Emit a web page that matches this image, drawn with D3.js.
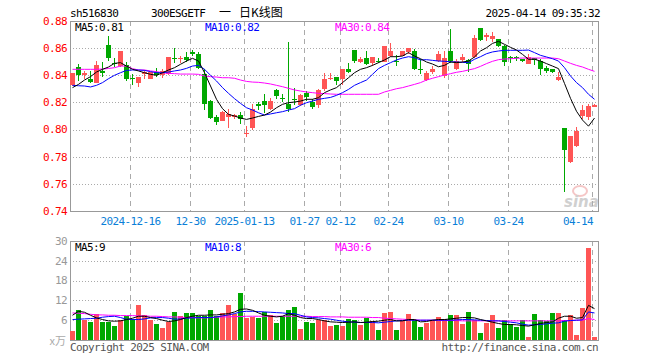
<!DOCTYPE html>
<html lang="zh">
<head>
<meta charset="utf-8">
<title>300ESGETF 日K线图</title>
<script src="https://d3js.org/d3.v7.min.js"></script>
<style>
  body { margin: 0; background: #fff; }
  text { font-family: "DejaVu Sans Mono", monospace; font-size: 11px; letter-spacing: -0.6px; }
  text.cjk { font-family: "Noto Sans CJK SC", sans-serif; font-size: 12px; letter-spacing: 0; }
</style>
</head>
<body>
<div id="chart"></div>
<script>
// trading days shown
var dates = [
  "2024-12-02","2024-12-03","2024-12-04","2024-12-05","2024-12-06",
  "2024-12-09","2024-12-10","2024-12-11","2024-12-12","2024-12-13",
  "2024-12-16","2024-12-17","2024-12-18","2024-12-19","2024-12-20",
  "2024-12-23","2024-12-24","2024-12-25","2024-12-26","2024-12-27",
  "2024-12-30","2024-12-31",
  "2025-01-02","2025-01-03","2025-01-06","2025-01-07","2025-01-08","2025-01-09","2025-01-10",
  "2025-01-13","2025-01-14","2025-01-15","2025-01-16","2025-01-17",
  "2025-01-20","2025-01-21","2025-01-22","2025-01-23","2025-01-24","2025-01-27",
  "2025-02-05","2025-02-06","2025-02-07","2025-02-10","2025-02-11","2025-02-12","2025-02-13","2025-02-14",
  "2025-02-17","2025-02-18","2025-02-19","2025-02-20","2025-02-21",
  "2025-02-24","2025-02-25","2025-02-26","2025-02-27","2025-02-28",
  "2025-03-03","2025-03-04","2025-03-05","2025-03-06","2025-03-07",
  "2025-03-10","2025-03-11","2025-03-12","2025-03-13","2025-03-14",
  "2025-03-17","2025-03-18","2025-03-19","2025-03-20","2025-03-21",
  "2025-03-24","2025-03-25","2025-03-26","2025-03-27","2025-03-28","2025-03-31",
  "2025-04-01","2025-04-02","2025-04-03","2025-04-07","2025-04-08","2025-04-09","2025-04-10","2025-04-11","2025-04-14"];

var open = [.8328,.8463,.8400,.8370,.8346,.8430,.8621,.8490,.8468,.8473,
  .8380,.8340,.8407,.8375,.8424,.8400,.8412,.8530,.8520,.8535,
  .8570,.8557,.8407,.8211,.8090,.8063,.8093,.8093,.8105,.7965,
  .8009,.8186,.8211,.8149,.8289,.8232,.8186,.8223,.8179,.8272,
  .8203,.8179,.8301,.8370,.8385,.8370,.8449,.8584,.8500,.8530,
  .8488,.8507,.8498,.8542,.8508,.8542,.8574,.8579,.8447,.8363,
  .8427,.8505,.8395,.8579,.8444,.8513,.8510,.8535,.8746,.8685,
  .8670,.8665,.8616,.8532,.8535,.8518,.8481,.8525,.8505,.8456,
  .8449,.8365,.8009,.7764,.7879,.8100,.8090,.8168];
var high = [.8420,.8480,.8430,.8430,.8505,.8500,.8690,.8530,.8580,.8500,
  .8410,.8390,.8440,.8424,.8456,.8450,.8535,.8600,.8545,.8570,
  .8590,.8570,.8444,.8220,.8107,.8135,.8154,.8117,.8129,.8028,
  .8186,.8203,.8260,.8235,.8296,.8260,.8645,.8309,.8262,.8285,
  .8223,.8296,.8419,.8420,.8390,.8444,.8494,.8584,.8535,.8579,
  .8535,.8530,.8616,.8635,.8550,.8579,.8604,.8591,.8517,.8432,
  .8468,.8579,.8579,.8739,.8518,.8559,.8522,.8697,.8746,.8709,
  .8719,.8665,.8620,.8540,.8540,.8520,.8555,.8525,.8520,.8468,
  .8449,.8424,.8009,.7953,.8019,.8179,.8186,.8186];
var low = [.8320,.8360,.8370,.8340,.8340,.8390,.8505,.8460,.8460,.8360,
  .8330,.8314,.8370,.8370,.8390,.8380,.8400,.8490,.8490,.8500,
  .8540,.8448,.8144,.8075,.8034,.8060,.8009,.8081,.8044,.7947,
  .8000,.8142,.8120,.8144,.8223,.8203,.8132,.8179,.8174,.8211,
  .8149,.8162,.8284,.8365,.8330,.8330,.8420,.8494,.8494,.8474,
  .8467,.8487,.8498,.8535,.8470,.8542,.8560,.8436,.8407,.8358,
  .8407,.8498,.8382,.8493,.8439,.8498,.8424,.8530,.8653,.8653,
  .8645,.8611,.8468,.8494,.8508,.8500,.8481,.8474,.8405,.8420,
  .8420,.8358,.7540,.7757,.7875,.8080,.8070,.8166];
var close = [.8414,.8402,.8419,.8350,.8473,.8420,.8525,.8480,.8576,.8370,
  .8370,.8387,.8424,.8424,.8399,.8430,.8535,.8525,.8530,.8510,
  .8560,.8451,.8186,.8088,.8058,.8129,.8117,.8105,.8075,.7975,
  .8154,.8174,.8179,.8211,.8247,.8228,.8154,.8220,.8252,.8240,
  .8169,.8289,.8370,.8382,.8360,.8444,.8427,.8505,.8522,.8486,
  .8535,.8503,.8616,.8579,.8503,.8579,.8604,.8444,.8444,.8419,
  .8449,.8554,.8530,.8505,.8505,.8535,.8486,.8672,.8660,.8694,
  .8689,.8616,.8498,.8525,.8530,.8503,.8535,.8513,.8447,.8432,
  .8425,.8390,.7849,.7953,.7990,.8144,.8172,.8183];

// volume, x万
var vol = [2.8,9.0,6.0,5.4,8.0,5.4,5.4,4.2,6.0,7.2,
  6.5,10.5,7.7,6.2,5.0,3.6,5.5,8.5,7.2,8.2,
  8.2,7.2,7.2,9.0,7.2,8.2,10.5,8.0,14.2,6.7,
  7.0,6.7,8.5,7.5,5.2,7.4,9.0,10.0,3.4,5.5,
  5.2,6.0,6.2,4.3,4.6,4.3,6.4,6.0,4.6,6.8,
  5.8,3.0,8.2,8.5,3.0,5.8,7.8,6.0,4.0,5.2,
  6.2,7.0,6.5,7.5,7.5,4.8,8.5,6.2,2.2,5.2,
  7.5,3.7,6.0,5.0,4.0,6.0,1.0,7.8,6.0,5.8,
  8.2,8.2,6.2,7.5,1.5,9.7,28.0,1.0];

// moving averages as drawn
var ma5 = [.8309,.8333,.8365,.8390,.8424,.8444,.8461,.8488,.8493,.8468,
  .8444,.8432,.8419,.8407,.8400,.8419,.8439,.8456,.8481,.8505,
  .8525,.8505,.8419,.8321,.8223,.8154,.8112,.8100,.8085,.8075,
  .8085,.8097,.8107,.8129,.8161,.8186,.8198,.8203,.8210,.8223,
  .8223,.8235,.8272,.8292,.8309,.8346,.8382,.8419,.8444,.8456,
  .8473,.8493,.8513,.8537,.8537,.8542,.8567,.8542,.8522,.8498,
  .8483,.8463,.8473,.8498,.8493,.8498,.8505,.8535,.8579,.8603,
  .8635,.8650,.8628,.8606,.8586,.8554,.8518,.8518,.8505,.8486,
  .8468,.8449,.8340,.8230,.8135,.8070,.8025,.8085];
var ma10 = [.8326,.8323,.8321,.8314,.8326,.8346,.8375,.8400,.8419,.8436,
  .8439,.8439,.8436,.8427,.8419,.8419,.8424,.8432,.8439,.8451,
  .8468,.8473,.8444,.8400,.8358,.8309,.8267,.8228,.8193,.8161,
  .8144,.8124,.8107,.8115,.8124,.8132,.8144,.8154,.8179,.8198,
  .8210,.8223,.8230,.8237,.8252,.8272,.8296,.8326,.8346,.8365,
  .8407,.8449,.8473,.8493,.8513,.8527,.8537,.8530,.8513,.8515,
  .8510,.8505,.8503,.8500,.8498,.8495,.8493,.8518,.8537,.8559,
  .8572,.8579,.8584,.8584,.8584,.8584,.8586,.8567,.8547,.8535,
  .8522,.8505,.8456,.8395,.8346,.8309,.8260,.8223];
var ma30 = [.8444,.8444,.8444,.8444,.8444,.8446,.8450,.8456,.8468,.8468,
  .8449,.8439,.8439,.8432,.8427,.8419,.8414,.8412,.8409,.8409,
  .8409,.8407,.8395,.8390,.8387,.8382,.8382,.8378,.8365,.8355,
  .8350,.8348,.8343,.8336,.8326,.8316,.8304,.8292,.8284,.8277,
  .8272,.8267,.8265,.8262,.8260,.8260,.8260,.8260,.8260,.8260,
  .8260,.8260,.8277,.8289,.8301,.8309,.8321,.8333,.8346,.8365,
  .8378,.8390,.8402,.8412,.8422,.8429,.8439,.8449,.8466,.8486,
  .8503,.8515,.8520,.8522,.8525,.8527,.8527,.8527,.8527,.8527,
  .8527,.8522,.8505,.8488,.8473,.8461,.8444,.8429];

var vma5 = [7.5,8.7,8.4,7.5,6.7,6.2,5.8,5.7,5.8,6.2,
  6.6,7.2,7.2,6.8,6.5,6.0,5.6,5.8,6.2,6.8,
  7.2,7.5,7.5,7.6,7.6,7.8,8.0,8.5,9.3,9.4,
  9.0,8.2,7.5,7.2,7.0,7.2,8.0,7.5,6.8,6.5,
  6.5,6.2,5.8,5.5,5.4,5.3,5.4,5.5,5.3,5.4,
  5.6,5.7,6.0,6.2,5.8,5.8,6.2,6.2,5.5,5.6,
  6.0,6.2,6.2,6.4,6.6,6.8,6.8,6.7,6.2,5.8,
  5.4,5.0,4.7,4.7,4.6,4.4,4.2,4.6,5.0,5.3,
  5.5,6.6,7.2,7.2,6.6,6.8,10.5,9.5];
var vma10 = [6.2,6.3,6.4,6.5,6.6,6.9,7.1,7.2,6.8,6.3,
  6.2,6.2,6.4,6.7,6.8,6.8,6.6,6.3,6.4,6.6,
  6.7,6.8,6.8,6.8,7.0,7.3,7.6,8.0,8.5,8.7,
  8.7,8.6,8.5,8.4,8.3,8.2,8.0,8.0,7.5,7.0,
  6.8,6.7,6.5,6.3,6.0,5.7,5.5,5.4,5.3,5.3,
  5.3,5.2,5.4,5.6,5.8,5.9,6.0,6.0,6.0,6.0,
  6.0,6.0,6.0,6.0,6.1,6.2,6.2,6.1,6.0,5.9,
  5.8,5.8,5.6,5.4,5.2,4.8,4.5,4.6,4.7,4.9,
  5.1,5.2,5.7,5.9,6.0,6.1,8.5,8.2];
var vma30 = [8.2,8.1,8.0,7.8,7.6,7.6,7.5,7.5,7.4,7.4,
  7.4,7.3,7.3,7.2,7.2,7.1,7.0,7.0,6.9,6.8,
  6.8,6.7,6.7,6.8,6.9,7.0,7.0,7.1,7.1,7.2,
  7.2,7.2,7.2,7.2,7.2,7.2,7.2,7.2,7.2,7.2,
  7.1,7.1,7.1,7.0,7.0,7.0,6.9,6.9,6.9,6.9,
  6.8,6.8,6.6,6.5,6.4,6.3,6.2,6.1,6.0,6.0,
  6.0,5.9,5.9,5.9,5.9,5.8,5.8,5.8,5.8,5.8,
  5.8,5.8,5.8,5.8,5.8,5.8,5.8,5.8,5.8,5.8,
  5.8,5.8,5.9,5.9,6.0,6.0,6.5,6.2];

var tickDates = ["2024-12-16","2024-12-30","2025-01-13","2025-01-27","2025-02-12",
  "2025-02-24","2025-03-10","2025-03-24","2025-04-14"];
var tickLabels = ["2024-12-16","12-30","2025-01-13","01-27","02-12","02-24","03-10","03-24","04-14"];
var priceTicks = [0.74, 0.76, 0.78, 0.80, 0.82, 0.84, 0.86, 0.88];
var volTicks = [6, 12, 18, 24, 30];

var w = 660, h = 360;
var left = 70, right = 598;
var pTop = 21, pBot = 211, vTop = 241, vBot = 340;
var red = "#ff5555", green = "#00a800", gridColor = "#aaa";

var svg = d3.select("#chart").append("svg")
  .attr("width", w).attr("height", h);

var x = d3.scaleBand().domain(dates).range([left, right]).padding(0);
var yP = d3.scaleLinear().domain([0.74, 0.88]).range([pBot, pTop]);
var yV = d3.scaleLinear().domain([0, 30]).range([vBot, vTop]);
var bw = x.bandwidth() - 1;

//horizontal dotted grid
svg.selectAll("line.pg")
  .data(priceTicks.slice(1, -1))
  .enter().append("line")
  .attr("x1", left).attr("x2", right)
  .attr("y1", function(d){ return Math.round(yP(d)) + 0.5; })
  .attr("y2", function(d){ return Math.round(yP(d)) + 0.5; })
  .attr("stroke", gridColor).attr("stroke-dasharray", "1,2");

svg.selectAll("line.vg")
  .data(volTicks.slice(0, -1))
  .enter().append("line")
  .attr("x1", left).attr("x2", right)
  .attr("y1", function(d){ return Math.round(yV(d)) + 0.5; })
  .attr("y2", function(d){ return Math.round(yV(d)) + 0.5; })
  .attr("stroke", gridColor).attr("stroke-dasharray", "1,2");

//vertical dashed grid in both panels
[[pTop, pBot], [vTop, vBot]].forEach(function(r){
  svg.append("g").selectAll("line")
    .data(tickDates)
    .enter().append("line")
    .attr("x1", function(d){ return x(d) + 0.5; })
    .attr("x2", function(d){ return x(d) + 0.5; })
    .attr("y1", r[0]).attr("y2", r[1])
    .attr("stroke", gridColor).attr("stroke-dasharray", "5,4");
});

//frames
svg.append("rect").attr("x", left + 0.5).attr("y", pTop + 0.5)
  .attr("width", right - left).attr("height", pBot - pTop)
  .attr("fill", "none").attr("stroke", "#999");
svg.append("rect").attr("x", left + 0.5).attr("y", vTop + 0.5)
  .attr("width", right - left).attr("height", vBot - vTop)
  .attr("fill", "none").attr("stroke", "#999");

//sina watermark
var wm = svg.append("g").attr("opacity", 0.55);
wm.append("ellipse").attr("cx", 580).attr("cy", 191).attr("rx", 7).attr("ry", 5)
  .attr("fill", "none").attr("stroke", "#e99").attr("stroke-width", 2);
wm.append("text").attr("x", 564).attr("y", 207)
  .style("font-family", "DejaVu Sans").style("font-size", "15px")
  .style("font-style", "italic").style("font-weight", "bold").style("letter-spacing", "0")
  .attr("fill", "#aaa").text("sina");

//candles
var idx = d3.range(dates.length);
function col(i){ return close[i] >= open[i] ? red : green; }

svg.append("g").attr("shape-rendering", "crispEdges")
  .selectAll("rect.wick")
  .data(idx).enter().append("rect")
  .attr("x", function(i){ return x(dates[i]) + 2; })
  .attr("y", function(i){ return Math.round(yP(high[i])); })
  .attr("width", 1)
  .attr("height", function(i){ return Math.max(1, Math.round(yP(low[i])) - Math.round(yP(high[i]))); })
  .attr("fill", col);

svg.append("g").attr("shape-rendering", "crispEdges")
  .selectAll("rect.body")
  .data(idx).enter().append("rect")
  .attr("x", function(i){ return x(dates[i]); })
  .attr("y", function(i){ return Math.round(yP(Math.max(open[i], close[i]))); })
  .attr("width", bw)
  .attr("height", function(i){
    return Math.max(1, Math.round(yP(Math.min(open[i], close[i]))) - Math.round(yP(Math.max(open[i], close[i]))));
  })
  .attr("fill", col);

//volume bars
svg.append("g").attr("shape-rendering", "crispEdges")
  .selectAll("rect")
  .data(idx).enter().append("rect")
  .attr("x", function(i){ return x(dates[i]); })
  .attr("y", function(i){ return Math.round(yV(vol[i])); })
  .attr("width", bw)
  .attr("height", function(i){ return vBot - Math.round(yV(vol[i])); })
  .attr("fill", col);

//MA lines
function drawLine(arr, yScale, color){
  var line = d3.line()
    .x(function(d, i){ return x(dates[i]) + 2.5; })
    .y(function(d){ return yScale(d); });
  svg.append("path").datum(arr)
    .attr("d", line)
    .attr("fill", "none").attr("stroke", color).attr("stroke-width", 1);
}
drawLine(ma30, yP, "#ff00ff");
drawLine(ma10, yP, "#0000ff");
drawLine(ma5, yP, "#000");
drawLine(vma30, yV, "#ff00ff");
drawLine(vma10, yV, "#0000ff");
drawLine(vma5, yV, "#000");

//axis labels
svg.selectAll("text.pl")
  .data(priceTicks).enter().append("text")
  .attr("x", 67).attr("y", function(d){ return yP(d); })
  .attr("dy", "0.35em").attr("text-anchor", "end")
  .attr("fill", "#f00").text(d3.format(".2f"));

svg.selectAll("text.vl")
  .data(volTicks).enter().append("text")
  .attr("x", 67).attr("y", function(d){ return yV(d); })
  .attr("dy", "0.35em").attr("text-anchor", "end")
  .attr("fill", "#999").text(function(d){ return d; });
svg.append("text").attr("class", "cjk").attr("x", 66).attr("y", 345)
  .attr("text-anchor", "end").attr("fill", "#aaa")
  .style("font-size", "11px").text("x万");

svg.selectAll("text.dl")
  .data(tickDates).enter().append("text")
  .attr("x", function(d, i){ return i === tickDates.length - 1 ? x(d) + 1 : x(d) + 0.5; })
  .attr("y", 225)
  .attr("text-anchor", function(d, i){ return i === tickDates.length - 1 ? "end" : "middle"; })
  .attr("fill", "#0a7fd8")
  .text(function(d, i){ return tickLabels[i]; });

//legends
var last = dates.length - 1;
var f2 = d3.format(".2f");
var legendP = [["MA5:" + f2(ma5[last]), "#000", 75], ["MA10:" + f2(ma10[last]), "#0000ff", 205], ["MA30:" + f2(ma30[last]), "#ff00ff", 335]];
var legendV = [["MA5:" + Math.floor(vma5[last]), "#000", 75], ["MA10:" + Math.floor(vma10[last]), "#0000ff", 205], ["MA30:" + Math.floor(vma30[last]), "#ff00ff", 335]];
legendP.forEach(function(l){
  svg.append("text").attr("x", l[2]).attr("y", 31).attr("fill", l[1]).text(l[0]);
});
legendV.forEach(function(l){
  svg.append("text").attr("x", l[2]).attr("y", 251).attr("fill", l[1]).text(l[0]);
});

//title row
svg.append("text").attr("x", 70).attr("y", 17).attr("fill", "#000").text("sh516830");
svg.append("text").attr("x", 151).attr("y", 17).attr("fill", "#000").text("300ESGETF");
svg.append("text").attr("class", "cjk").attr("x", 219).attr("y", 17).attr("fill", "#000").text("一");
svg.append("text").attr("class", "cjk").attr("x", 239).attr("y", 17).attr("fill", "#000").text("日K线图");
svg.append("text").attr("x", 600).attr("y", 17).attr("text-anchor", "end").attr("fill", "#000")
  .text("2025-04-14 09:35:32");

//footer
svg.append("text").attr("x", 70).attr("y", 351).attr("fill", "#555").text("Copyright 2025 SINA.COM");
svg.append("text").attr("x", 598).attr("y", 351).attr("text-anchor", "end").attr("fill", "#555")
  .text("http://finance.sina.com.cn");
</script>
</body>
</html>
